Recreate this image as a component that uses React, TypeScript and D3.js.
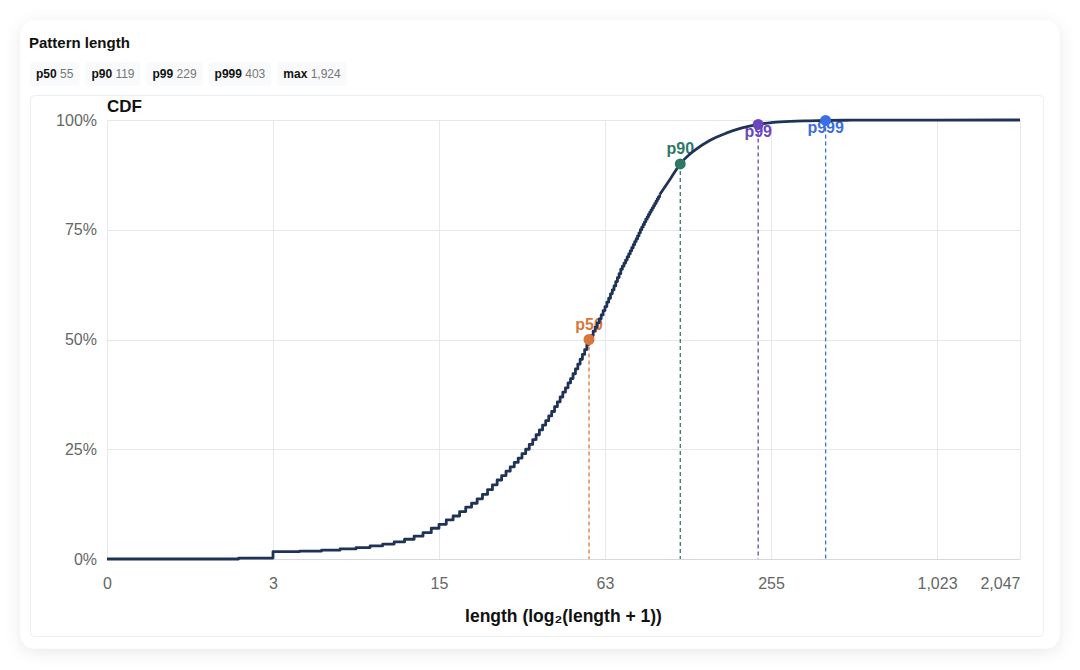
import React, { useEffect, useRef } from "react";
import * as d3 from "d3";

// CDF in percent, indexed by pattern length (0..100)
const stepCdf = [
  0, 0, 0.2, 1.7, 1.8, 2.0, 2.3, 2.6, 3.0, 3.4,
  3.9, 4.5, 5.2, 6.0, 7.0, 7.9, 8.9, 9.8, 10.8, 11.8,
  12.7, 13.7, 14.7, 15.8, 16.9, 18.0, 19.0, 20.0, 21.0, 22.0,
  23.0, 24.0, 25.0, 26.1, 27.2, 28.3, 29.4, 30.5, 31.5, 32.6,
  33.6, 34.7, 35.8, 36.9, 38.0, 39.0, 40.1, 41.1, 42.2, 43.3,
  44.4, 45.5, 46.6, 47.7, 48.9, 50.0, 50.9, 51.9, 52.8, 53.8,
  54.7, 55.6, 56.6, 57.5, 58.5, 59.4, 60.4, 61.3, 62.2, 63.2,
  64.1, 65.0, 66.0, 66.7, 67.4, 68.1, 68.8, 69.5, 70.2, 70.9,
  71.6, 72.3, 72.9, 73.6, 74.3, 75.0, 75.6, 76.2, 76.8, 77.4,
  77.9, 78.5, 79.0, 79.5, 80.0, 80.5, 81.0, 81.5, 82.0, 82.5,
  83.0,
];

// long tail, where steps are too small to see
const tailLengths = [110, 119, 135, 153, 175, 200, 229, 260, 300, 350, 403, 500, 700, 1000, 1924, 2047];
const tailCdf = [86.8, 90.0, 93.2, 95.4, 97.0, 98.2, 99.0, 99.45, 99.7, 99.82, 99.9, 99.95, 99.98, 99.99, 100, 100];

const pctNames = ["p50", "p90", "p99", "p999"];
const pctLengths = [55, 119, 229, 403];
const pctLevels = [0.5, 0.9, 0.99, 0.999];
const pctColors = ["#d9773a", "#2e7867", "#6a46c1", "#3c6ee4"];

const statLabels = ["p50", "p90", "p99", "p999", "max"];
const statValues = [55, 119, 229, 403, 1924];

const xTickLengths = [0, 3, 15, 63, 255, 1023, 2047];
const yTickValues = [0, 0.25, 0.5, 0.75, 1];

const width = 1080;
const height = 670;
const marginLeft = 107;
const marginRight = 60;
const marginTop = 120;
const marginBottom = 111;

const font = "'Liberation Sans', Arial, Helvetica, sans-serif";

export default function App() {
  const svgRef = useRef<SVGSVGElement>(null);

  useEffect(() => {
    const svg = d3.select(svgRef.current);
    svg.selectAll("*").remove();
    svg.attr("font-family", font);

    const lg = (l: number) => Math.log2(l + 1);

    const x = d3
      .scaleLinear()
      .domain([0, lg(2047)])
      .range([marginLeft, width - marginRight]);
    const y = d3
      .scaleLinear()
      .domain([0, 1])
      .range([height - marginBottom, marginTop]);

    // card + shadow
    const defs = svg.append("defs");
    const f = defs.append("filter").attr("id", "shadow").attr("x", "-10%").attr("y", "-10%").attr("width", "120%").attr("height", "120%");
    f.append("feDropShadow").attr("dx", 0).attr("dy", 3).attr("stdDeviation", 8).attr("flood-color", "#000").attr("flood-opacity", 0.09);

    svg.append("rect").attr("width", width).attr("height", height).attr("fill", "#fff");
    svg
      .append("rect")
      .attr("x", 20.5)
      .attr("y", 20.5)
      .attr("width", 1039)
      .attr("height", 628)
      .attr("rx", 14)
      .attr("fill", "#fff")
      .attr("filter", "url(#shadow)");
    svg
      .append("rect")
      .attr("x", 30.5)
      .attr("y", 95.5)
      .attr("width", 1013)
      .attr("height", 541)
      .attr("rx", 4)
      .attr("fill", "#fff")
      .attr("stroke", "#eceef1");

    svg
      .append("text")
      .attr("x", 29)
      .attr("y", 48)
      .attr("font-size", 15)
      .attr("font-weight", 700)
      .attr("fill", "#111")
      .text("Pattern length");

    // stat chips, laid out by measured text width
    let cx = 30;
    statLabels.forEach((lab, i) => {
      const g = svg.append("g");
      const rect = g.append("rect").attr("y", 62).attr("height", 24).attr("rx", 3).attr("fill", "#f9fafb");
      const t = g.append("text").attr("x", cx + 6).attr("y", 78).attr("font-size", 12);
      t.append("tspan").attr("font-weight", 700).attr("fill", "#111").text(lab);
      t.append("tspan").attr("fill", "#777").text(" " + d3.format(",")(statValues[i]));
      const w = (t.node() as SVGTextElement).getComputedTextLength();
      rect.attr("x", cx).attr("width", w + 12);
      cx += w + 12 + 6;
    });

    // grid
    const grid = svg.append("g").attr("stroke", "#e6e8ec").attr("stroke-width", 1);
    xTickLengths.forEach((l) => {
      grid
        .append("line")
        .attr("x1", Math.round(x(lg(l))) + 0.5)
        .attr("x2", Math.round(x(lg(l))) + 0.5)
        .attr("y1", y(1))
        .attr("y2", y(0));
    });
    yTickValues.forEach((v) => {
      grid
        .append("line")
        .attr("x1", x(0))
        .attr("x2", x(lg(2047)))
        .attr("y1", Math.round(y(v)) + 0.5)
        .attr("y2", Math.round(y(v)) + 0.5);
    });
    svg
      .append("line")
      .attr("x1", x(0))
      .attr("x2", x(lg(2047)))
      .attr("y1", Math.round(y(0)) + 0.5)
      .attr("y2", Math.round(y(0)) + 0.5)
      .attr("stroke", "#d5d9df");

    // axes
    const xAxis = d3
      .axisBottom(x)
      .tickValues(xTickLengths.map(lg))
      .tickFormat((d) => d3.format(",")(Math.round(2 ** (d as number) - 1)))
      .tickSize(0)
      .tickPadding(19);
    const gx = svg.append("g").attr("transform", `translate(0,${y(0)})`).call(xAxis);
    gx.select(".domain").remove();
    gx.selectAll("text").attr("font-size", 16).attr("fill", "#666").attr("font-family", font);
    gx.selectAll("text").filter((_, i, n) => i === n.length - 1).attr("text-anchor", "end");

    const yAxis = d3.axisLeft(y).tickValues(yTickValues).tickFormat(d3.format(".0%")).tickSize(0).tickPadding(10);
    const gy = svg.append("g").attr("transform", `translate(${x(0)},0)`).call(yAxis);
    gy.select(".domain").remove();
    gy.selectAll("text").attr("font-size", 16).attr("fill", "#666").attr("font-family", font);

    svg
      .append("text")
      .attr("x", 107)
      .attr("y", 112)
      .attr("font-size", 17)
      .attr("font-weight", 700)
      .attr("fill", "#111")
      .text("CDF");

    svg
      .append("text")
      .attr("x", (x(0) + x(lg(2047))) / 2)
      .attr("y", 622)
      .attr("text-anchor", "middle")
      .attr("font-size", 17.5)
      .attr("font-weight", 700)
      .attr("fill", "#111")
      .text("length (log₂(length + 1))");

    // percentile guides
    pctNames.forEach((name, i) => {
      const px = x(lg(pctLengths[i]));
      const py = y(pctLevels[i]);
      svg
        .append("line")
        .attr("x1", px)
        .attr("x2", px)
        .attr("y1", py)
        .attr("y2", y(0))
        .attr("stroke", pctColors[i])
        .attr("stroke-width", 1.3)
        .attr("stroke-dasharray", "4,3");
      const below = pctLevels[i] > 0.95;
      svg
        .append("text")
        .attr("x", px)
        .attr("y", below ? py + 13 : py - 10)
        .attr("text-anchor", "middle")
        .attr("font-size", 16)
        .attr("font-weight", 700)
        .attr("fill", pctColors[i])
        .text(name);
    });

    // CDF curve: integer steps, then smooth tail
    const stepPts: [number, number][] = stepCdf.map((v, l) => [lg(l), v / 100]);
    const tailPts: [number, number][] = [stepPts[stepPts.length - 1]].concat(
      tailLengths.map((l, i) => [lg(l), tailCdf[i] / 100] as [number, number])
    );
    const stepLine = d3
      .line<[number, number]>()
      .x((d) => x(d[0]))
      .y((d) => y(d[1]))
      .curve(d3.curveStepAfter);
    const tailLine = d3
      .line<[number, number]>()
      .x((d) => x(d[0]))
      .y((d) => y(d[1]))
      .curve(d3.curveMonotoneX);
    const lineG = svg
      .append("g")
      .attr("fill", "none")
      .attr("stroke", "#1f3357")
      .attr("stroke-width", 2.8)
      .attr("stroke-linejoin", "round");
    lineG.append("path").attr("d", stepLine(stepPts));
    lineG.append("path").attr("d", tailLine(tailPts));

    pctNames.forEach((name, i) => {
      svg
        .append("circle")
        .attr("cx", x(lg(pctLengths[i])))
        .attr("cy", y(pctLevels[i]))
        .attr("r", 5.5)
        .attr("fill", pctColors[i]);
    });
  }, []);

  return (
    <div style={{ position: "absolute", left: 0, top: 0 }}>
      <svg ref={svgRef} width={width} height={height} />
    </div>
  );
}
